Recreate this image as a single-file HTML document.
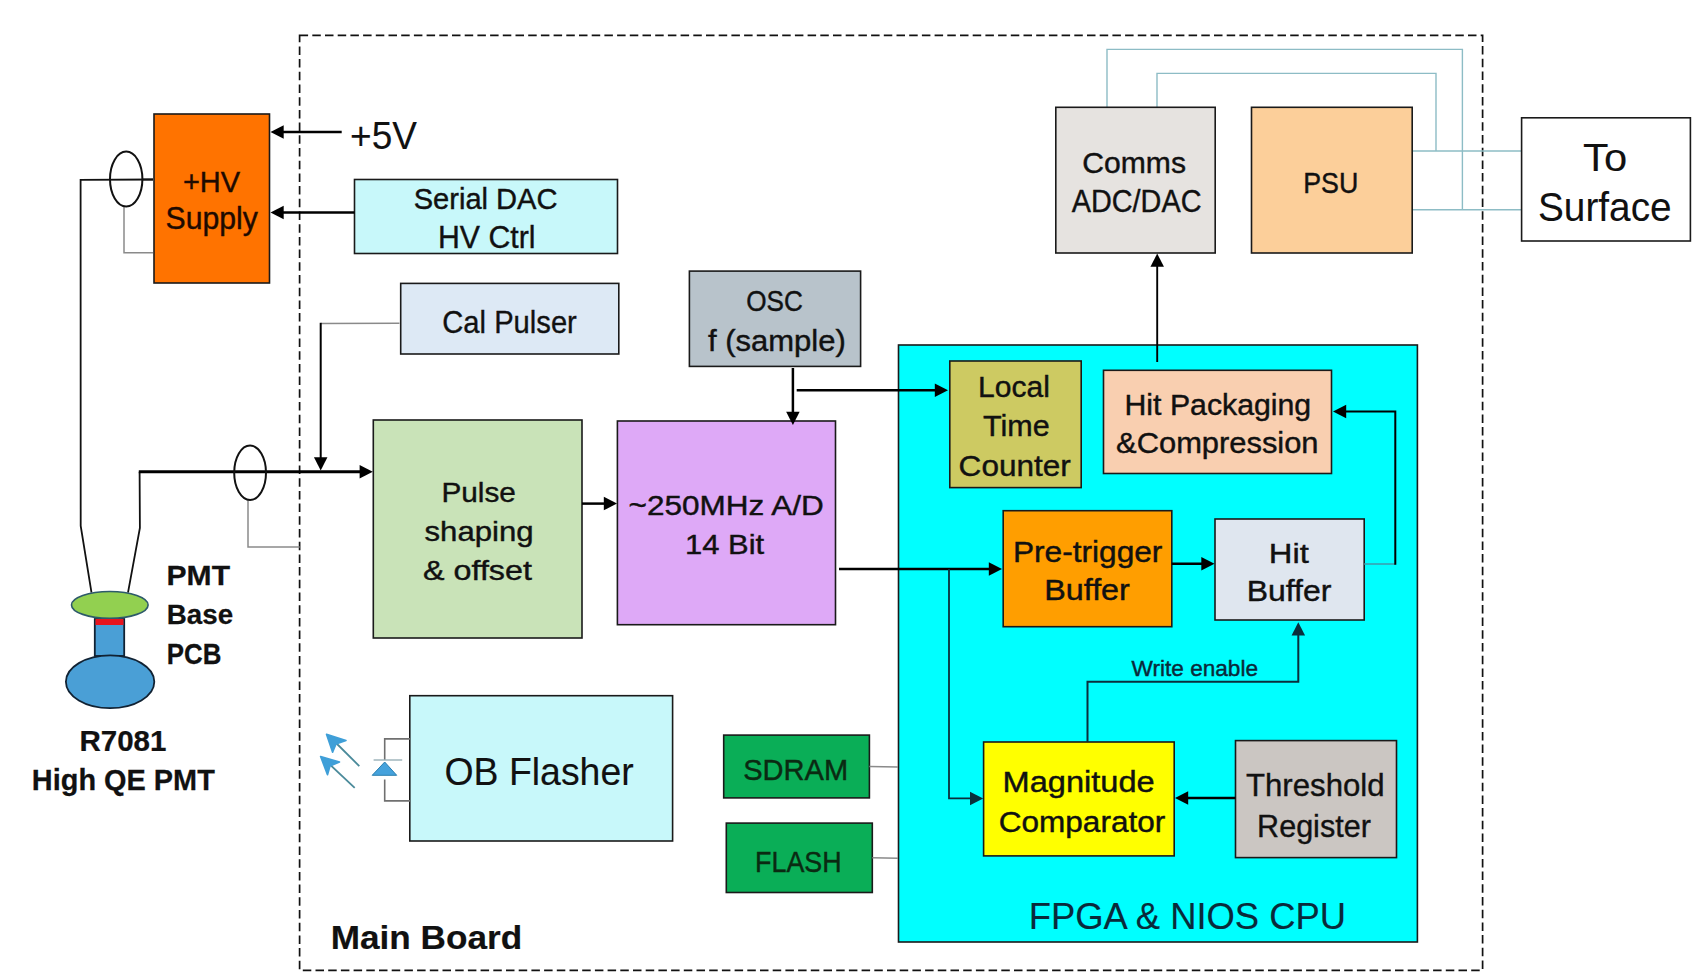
<!DOCTYPE html>
<html><head><meta charset="utf-8"><title>Main Board Block Diagram</title>
<style>
html,body{margin:0;padding:0;background:#fff;}
body{width:1698px;height:976px;overflow:hidden;}
svg{display:block;font-family:"Liberation Sans",sans-serif;}
</style></head><body>
<svg width="1698" height="976" viewBox="0 0 1698 976">
<rect x="0" y="0" width="1698" height="976" fill="#fff"/>
<rect x="299.6" y="35.3" width="1183" height="935" fill="none" stroke="#111" stroke-width="1.7" stroke-dasharray="8.5 4.2"/>
<polyline points="1107,107.3 1107,49.4 1462.4,49.4 1462.4,209.6" fill="none" stroke="#8dbcc5" stroke-width="1.4" stroke-linejoin="miter"/>
<polyline points="1157,107.3 1157,73.4 1436,73.4 1436,151" fill="none" stroke="#8dbcc5" stroke-width="1.4" stroke-linejoin="miter"/>
<polyline points="1412,151 1521.6,151" fill="none" stroke="#8dbcc5" stroke-width="1.4" stroke-linejoin="miter"/>
<polyline points="1412,209.8 1521.6,209.8" fill="none" stroke="#8dbcc5" stroke-width="1.4" stroke-linejoin="miter"/>
<rect x="154" y="114" width="115.5" height="169" fill="#ff7300" stroke="#1a1a1a" stroke-width="1.6"/>
<rect x="354.5" y="179.5" width="263" height="74" fill="#c8f8fa" stroke="#1a1a1a" stroke-width="1.6"/>
<rect x="400.7" y="283.4" width="218.1" height="70.6" fill="#dde9f5" stroke="#1a1a1a" stroke-width="1.6"/>
<rect x="373.3" y="420" width="208.7" height="218" fill="#c9e3b8" stroke="#1a1a1a" stroke-width="1.6"/>
<rect x="617.4" y="421" width="218.1" height="203.7" fill="#dea9f7" stroke="#1a1a1a" stroke-width="1.6"/>
<rect x="689.4" y="271.1" width="171.2" height="95.3" fill="#b8c3cb" stroke="#1a1a1a" stroke-width="1.6"/>
<rect x="898.5" y="345" width="518.9" height="597" fill="#00ffff" stroke="#1a1a1a" stroke-width="1.6"/>
<rect x="949.8" y="361" width="131.4" height="126.6" fill="#cdca62" stroke="#1a1a1a" stroke-width="1.6"/>
<rect x="1103.5" y="370.3" width="228" height="103.2" fill="#f9cfb0" stroke="#1a1a1a" stroke-width="1.6"/>
<rect x="1003.2" y="510.7" width="168.6" height="116" fill="#ff9e00" stroke="#1a1a1a" stroke-width="1.6"/>
<rect x="1215" y="519" width="149.2" height="101" fill="#dfe6ef" stroke="#1a1a1a" stroke-width="1.6"/>
<rect x="983.6" y="742" width="190.6" height="113.9" fill="#ffff00" stroke="#1a1a1a" stroke-width="1.6"/>
<rect x="1235.5" y="740.6" width="161" height="117" fill="#cbc6c2" stroke="#1a1a1a" stroke-width="1.6"/>
<rect x="1055.8" y="107.3" width="159.4" height="145.7" fill="#e6e3e0" stroke="#1a1a1a" stroke-width="1.6"/>
<rect x="1251.5" y="107.3" width="160.7" height="145.7" fill="#fccf9a" stroke="#1a1a1a" stroke-width="1.6"/>
<rect x="1521.6" y="117.8" width="168.8" height="123.2" fill="#ffffff" stroke="#1a1a1a" stroke-width="1.6"/>
<rect x="409.8" y="695.7" width="262.8" height="145.3" fill="#c8f8fa" stroke="#1a1a1a" stroke-width="1.6"/>
<rect x="723.7" y="735.1" width="145.7" height="62.8" fill="#0aae57" stroke="#1a1a1a" stroke-width="1.6"/>
<rect x="726.3" y="823.1" width="146" height="69.4" fill="#0aae57" stroke="#1a1a1a" stroke-width="1.6"/>
<polyline points="124,206.6 124,252.7 153,252.7" fill="none" stroke="#8a8a8a" stroke-width="1.5" stroke-linejoin="miter"/>
<polyline points="248,500 248,546.9 299.7,546.9" fill="none" stroke="#8a8a8a" stroke-width="1.5" stroke-linejoin="miter"/>
<polyline points="399.5,323.2 320.7,323.6" fill="none" stroke="#8a8a8a" stroke-width="1.5" stroke-linejoin="miter"/>
<polyline points="869.4,766.5 898,767" fill="none" stroke="#8a8a8a" stroke-width="1.5" stroke-linejoin="miter"/>
<polyline points="872.3,857.8 898,858.3" fill="none" stroke="#8a8a8a" stroke-width="1.5" stroke-linejoin="miter"/>
<polyline points="153,179.5 80.6,179.8 80.7,525.9 91.5,592.7" fill="none" stroke="#111" stroke-width="1.8" stroke-linejoin="miter"/>
<polyline points="139.6,471.7 139.9,527.9 128,592.7" fill="none" stroke="#111" stroke-width="1.8" stroke-linejoin="miter"/>
<polyline points="142,179.5 153,179.5" fill="none" stroke="#111" stroke-width="1.8" stroke-linejoin="miter"/>
<polyline points="341.7,132 278.42,132" fill="none" stroke="#000" stroke-width="2.5" stroke-linejoin="miter"/><polygon points="270.5,132 283.7,125.25 283.7,138.75" fill="#000"/>
<polyline points="354.5,212.6 278.42,212.6" fill="none" stroke="#000" stroke-width="2.5" stroke-linejoin="miter"/><polygon points="270.5,212.6 283.7,205.85 283.7,219.35" fill="#000"/>
<polyline points="320.7,322.8 320.7,462.58" fill="none" stroke="#000" stroke-width="2" stroke-linejoin="miter"/><polygon points="320.7,470.5 313.95,457.3 327.45,457.3" fill="#000"/>
<polyline points="138.8,471.7 364.88,471.7" fill="none" stroke="#000" stroke-width="3" stroke-linejoin="miter"/><polygon points="372.8,471.7 359.6,478.45 359.6,464.95" fill="#000"/>
<polyline points="582,503.6 609.08,503.6" fill="none" stroke="#000" stroke-width="2.5" stroke-linejoin="miter"/><polygon points="617,503.6 603.8,510.35 603.8,496.85" fill="#000"/>
<polyline points="792.9,368 792.9,417.08" fill="none" stroke="#000" stroke-width="2.5" stroke-linejoin="miter"/><polygon points="792.9,425 786.15,411.8 799.65,411.8" fill="#000"/>
<polyline points="796.7,390.2 940.08,390.2" fill="none" stroke="#000" stroke-width="2.5" stroke-linejoin="miter"/><polygon points="948,390.2 934.8,396.95 934.8,383.45" fill="#000"/>
<polyline points="839,569 994.08,569" fill="none" stroke="#000" stroke-width="2.5" stroke-linejoin="miter"/><polygon points="1002,569 988.8,575.75 988.8,562.25" fill="#000"/>
<polyline points="949,569 949,798.4 975.28,798.4" fill="none" stroke="#0a2f3c" stroke-width="1.8" stroke-linejoin="miter"/><polygon points="983.2,798.4 970,805.15 970,791.65" fill="#0a2f3c"/>
<polyline points="1171.8,563.8 1206.58,563.8" fill="none" stroke="#000" stroke-width="2.5" stroke-linejoin="miter"/><polygon points="1214.5,563.8 1201.3,570.55 1201.3,557.05" fill="#000"/>
<polyline points="1364.2,564 1395.3,564" fill="none" stroke="#3aa0b0" stroke-width="1.6" stroke-linejoin="miter"/>
<polyline points="1395.3,564.8 1395.3,411.6 1340.92,411.6" fill="none" stroke="#000" stroke-width="2" stroke-linejoin="miter"/><polygon points="1333,411.6 1346.2,404.85 1346.2,418.35" fill="#000"/>
<polyline points="1157.2,362 1157.2,261.52" fill="none" stroke="#000" stroke-width="1.9" stroke-linejoin="miter"/><polygon points="1157.2,253.6 1163.95,266.8 1150.45,266.8" fill="#000"/>
<polyline points="1235.5,798 1182.92,798" fill="none" stroke="#000" stroke-width="2.5" stroke-linejoin="miter"/><polygon points="1175,798 1188.2,791.25 1188.2,804.75" fill="#000"/>
<polyline points="1087.5,742 1087.5,681.7 1298.3,681.7 1298.3,630.12" fill="none" stroke="#0a2f3c" stroke-width="2" stroke-linejoin="miter"/><polygon points="1298.3,622.2 1305.05,635.4 1291.55,635.4" fill="#0a2f3c"/>
<ellipse cx="126.2" cy="179.1" rx="16.2" ry="27.5" fill="none" stroke="#111" stroke-width="2"/>
<ellipse cx="250.1" cy="472.8" rx="15.9" ry="27.2" fill="none" stroke="#111" stroke-width="2"/>
<rect x="94.8" y="619" width="29.4" height="37" fill="#4a9fd6" stroke="#123" stroke-width="1.8"/>
<rect x="95.5" y="619" width="28" height="6" fill="#e8141e"/>
<ellipse cx="110.1" cy="681.8" rx="44.2" ry="26.4" fill="#4a9fd6" stroke="#123" stroke-width="1.8"/>
<ellipse cx="109.8" cy="604.9" rx="38.3" ry="13.4" fill="#92d050" stroke="#2d5a6a" stroke-width="1.6"/>
<polyline points="410,738.9 384.7,738.9 384.7,760" fill="none" stroke="#707070" stroke-width="1.6" stroke-linejoin="miter"/>
<polyline points="384.7,779.5 384.7,800.9 410,800.9" fill="none" stroke="#707070" stroke-width="1.6" stroke-linejoin="miter"/>
<polyline points="373.6,760 402.2,760" fill="none" stroke="#9ab0b8" stroke-width="1.4" stroke-linejoin="miter"/>
<polygon points="384.7,762 372.2,775.3 396.7,775.3" fill="#45a2dc" stroke="#2a7fb0" stroke-width="1"/>
<polyline points="359.3,766.1 330,737" fill="none" stroke="#4a8a9a" stroke-width="1.8" stroke-linejoin="miter"/>
<polygon points="326.5,734.3 346,740.5 336,744 332.6,752.2" fill="#3f9fd8" stroke="#3f9fd8" stroke-width="1.6" stroke-linejoin="round"/>
<polyline points="354.7,787.8 324,759" fill="none" stroke="#4a8a9a" stroke-width="1.8" stroke-linejoin="miter"/>
<polygon points="320.6,756.5 339.5,762 330,766 327.5,774.8" fill="#3f9fd8" stroke="#3f9fd8" stroke-width="1.6" stroke-linejoin="round"/>
<text transform="translate(350.04 148.7) scale(0.9486 1)" font-size="38.99" fill="#111" stroke="#111" stroke-width="0.11">+5V</text>
<text transform="translate(182.92 191.8) scale(0.9624 1)" font-size="30.14" fill="#1e0a00" stroke="#1e0a00" stroke-width="0.41">+HV</text>
<text transform="translate(165.54 229.4) scale(0.9923 1)" font-size="30.43" fill="#1e0a00" stroke="#1e0a00" stroke-width="0.40">Supply</text>
<text transform="translate(413.69 209) scale(0.9742 1)" font-size="29.86" fill="#111" stroke="#111" stroke-width="0.42">Serial DAC</text>
<text transform="translate(437.9 248.4) scale(0.9547 1)" font-size="31.74" fill="#111" stroke="#111" stroke-width="0.36">HV Ctrl</text>
<text transform="translate(442.24 333) scale(0.9159 1)" font-size="31.88" fill="#111" stroke="#111" stroke-width="0.35">Cal Pulser</text>
<text transform="translate(441.44 501.6) scale(1.0427 1)" font-size="28.55" fill="#111" stroke="#111" stroke-width="0.42">Pulse</text>
<text transform="translate(424.54 540.8) scale(1.0910 1)" font-size="28.55" fill="#111" stroke="#111" stroke-width="0.42">shaping</text>
<text transform="translate(423.07 580.2) scale(1.1307 1)" font-size="28.55" fill="#111" stroke="#111" stroke-width="0.42">&amp; offset</text>
<text transform="translate(628.58 514.8) scale(1.1379 1)" font-size="27.68" fill="#111" stroke="#111" stroke-width="0.42">~250MHz A/D</text>
<text transform="translate(685.08 554) scale(1.1240 1)" font-size="27.54" fill="#111" stroke="#111" stroke-width="0.42">14 Bit</text>
<text transform="translate(746.26 311.2) scale(0.8923 1)" font-size="29.28" fill="#111" stroke="#111" stroke-width="0.42">OSC</text>
<text transform="translate(707.93 351) scale(1.0599 1)" font-size="29.28" fill="#111" stroke="#111" stroke-width="0.42">f (sample)</text>
<text transform="translate(978.02 396.8) scale(1.0113 1)" font-size="29.71" fill="#111" stroke="#111" stroke-width="0.42">Local</text>
<text transform="translate(983.01 435.6) scale(1.0389 1)" font-size="29.42" fill="#111" stroke="#111" stroke-width="0.42">Time</text>
<text transform="translate(958.62 476) scale(1.0611 1)" font-size="29.71" fill="#111" stroke="#111" stroke-width="0.42">Counter</text>
<text transform="translate(1124.5 415.1) scale(1.0439 1)" font-size="28.99" fill="#111" stroke="#111" stroke-width="0.42">Hit Packaging</text>
<text transform="translate(1116.12 453.2) scale(1.0649 1)" font-size="28.99" fill="#111" stroke="#111" stroke-width="0.42">&amp;Compression</text>
<text transform="translate(1012.89 561.9) scale(1.0921 1)" font-size="28.99" fill="#111" stroke="#111" stroke-width="0.42">Pre-trigger</text>
<text transform="translate(1044.23 599.6) scale(1.1151 1)" font-size="28.99" fill="#111" stroke="#111" stroke-width="0.42">Buffer</text>
<text transform="translate(1268.8 563.4) scale(1.1474 1)" font-size="28.55" fill="#111" stroke="#111" stroke-width="0.42">Hit</text>
<text transform="translate(1246.66 600.6) scale(1.1029 1)" font-size="28.99" fill="#111" stroke="#111" stroke-width="0.42">Buffer</text>
<text transform="translate(1131.59 675.7) scale(0.9935 1)" font-size="22.75" fill="#0a2a3a" stroke="#0a2a3a" stroke-width="0.42">Write enable</text>
<text transform="translate(1002.51 791.8) scale(1.1131 1)" font-size="29.28" fill="#111" stroke="#111" stroke-width="0.42">Magnitude</text>
<text transform="translate(998.72 831.5) scale(1.0775 1)" font-size="29.28" fill="#111" stroke="#111" stroke-width="0.42">Comparator</text>
<text transform="translate(1246 796) scale(0.9957 1)" font-size="31.3" fill="#111" stroke="#111" stroke-width="0.37">Threshold</text>
<text transform="translate(1257.08 836.7) scale(0.9764 1)" font-size="31.3" fill="#111" stroke="#111" stroke-width="0.37">Register</text>
<text transform="translate(1028.7 929.4) scale(0.9615 1)" font-size="37.83" fill="#0a2a3a" stroke="#0a2a3a" stroke-width="0.15">FPGA &amp; NIOS CPU</text>
<text transform="translate(1082.29 173) scale(1.0391 1)" font-size="28.99" fill="#111" stroke="#111" stroke-width="0.42">Comms</text>
<text transform="translate(1071.73 211.6) scale(0.9385 1)" font-size="30.72" fill="#111" stroke="#111" stroke-width="0.39">ADC/DAC</text>
<text transform="translate(1303.19 192.6) scale(0.9236 1)" font-size="28.99" fill="#111" stroke="#111" stroke-width="0.42">PSU</text>
<text transform="translate(1583.06 170.8) scale(1.0700 1)" font-size="38.99" fill="#111" stroke="#111" stroke-width="0.11">To</text>
<text transform="translate(1537.95 221) scale(0.9702 1)" font-size="40" fill="#111" stroke="#111" stroke-width="0.07">Surface</text>
<text transform="translate(444.52 785.1) scale(0.9706 1)" font-size="38.55" fill="#111" stroke="#111" stroke-width="0.12">OB Flasher</text>
<text transform="translate(743.19 779.7) scale(0.9976 1)" font-size="29.13" fill="#0a2a12" stroke="#0a2a12" stroke-width="0.42">SDRAM</text>
<text transform="translate(755.08 872.4) scale(0.8918 1)" font-size="30.14" fill="#0a2a12" stroke="#0a2a12" stroke-width="0.41">FLASH</text>
<text transform="translate(330.73 949.4) scale(1.0554 1)" font-size="33.33" font-weight="bold" fill="#111" stroke="#111" stroke-width="0.18">Main Board</text>
<text transform="translate(166.57 584.6) scale(1.0583 1)" font-size="28.41" font-weight="bold" fill="#111" stroke="#111" stroke-width="0.25">PMT</text>
<text transform="translate(166.73 624) scale(0.9929 1)" font-size="27.97" font-weight="bold" fill="#111" stroke="#111" stroke-width="0.25">Base</text>
<text transform="translate(166.85 664.2) scale(0.8936 1)" font-size="28.99" font-weight="bold" fill="#111" stroke="#111" stroke-width="0.25">PCB</text>
<text transform="translate(79.51 750.9) scale(1.0130 1)" font-size="29.13" font-weight="bold" fill="#111" stroke="#111" stroke-width="0.25">R7081</text>
<text transform="translate(31.85 789.8) scale(0.9923 1)" font-size="29.13" font-weight="bold" fill="#111" stroke="#111" stroke-width="0.25">High QE PMT</text>
</svg>
</body></html>
